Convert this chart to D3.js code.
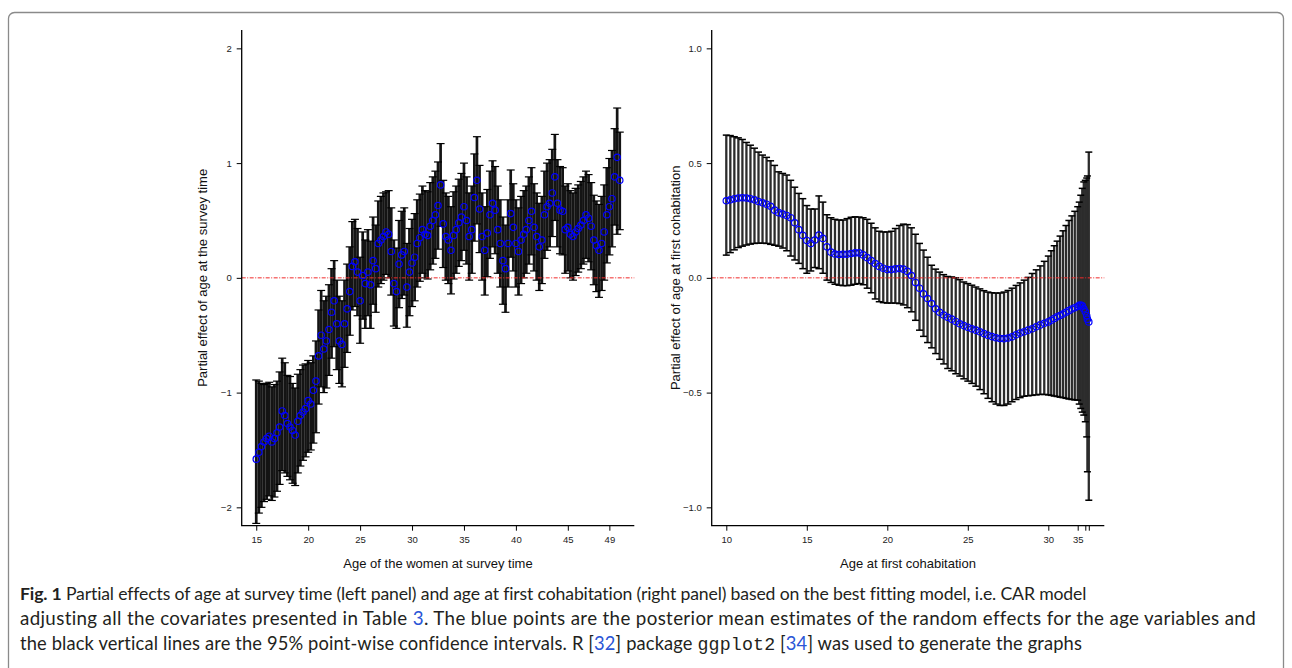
<!DOCTYPE html>
<html>
<head>
<meta charset="utf-8">
<script src="https://cdn.jsdelivr.net/npm/d3@7"></script>
<style>
  html, body { margin: 0; padding: 0; background: #fff; }
  svg { display: block; }
</style>
</head>
<body>
<div id="chart"></div>
<script>
// Left panel: age of the women at survey time
const surveyAge = [15,15.25,15.5,15.75,16,16.25,16.5,16.75,17,17.25,17.5,17.75,18,18.25,18.5,18.75,19,19.25,19.5,19.75,
  20,20.25,20.5,20.75,21,21.25,21.5,21.75,22,22.25,22.5,22.75,23,23.25,23.5,23.75,24,24.25,24.5,24.75,
  25,25.25,25.5,25.75,26,26.25,26.5,26.75,27,27.25,27.5,27.75,28,28.25,28.5,28.75,29,29.25,29.5,29.75,
  30,30.25,30.5,30.75,31,31.25,31.5,31.75,32,32.25,32.5,32.75,33,33.25,33.5,33.75,34,34.25,34.5,34.75,
  35,35.25,35.5,35.75,36,36.25,36.5,36.75,37,37.25,37.5,37.75,38,38.25,38.5,38.75,39,39.25,39.5,39.75,
  40,40.25,40.5,40.75,41,41.25,41.5,41.75,42,42.25,42.5,42.75,43,43.25,43.5,43.75,44,44.25,44.5,44.75,
  45,45.25,45.5,45.75,46,46.25,46.5,46.75,47,47.25,47.5,47.75,48,48.25,48.5,48.75,49,49.25,49.5,49.75,50];
const surveyMean = [-1.58,-1.52,-1.47,-1.43,-1.40,-1.38,-1.43,-1.40,-1.35,-1.30,-1.16,-1.20,-1.27,-1.30,-1.33,-1.37,-1.25,-1.20,-1.17,-1.14,
  -1.07,-1.10,-0.98,-0.90,-0.68,-0.50,-0.62,-0.55,-0.45,-0.30,-0.20,-0.40,-0.55,-0.58,-0.40,-0.27,-0.12,0.10,0.14,0.05,
  -0.20,0.02,-0.05,0.05,-0.06,0.15,0.08,0.30,0.33,0.36,0.40,0.38,0.23,-0.05,-0.12,0.12,0.20,0.23,-0.08,0.05,
  0.13,0.18,0.30,0.35,0.42,0.38,0.37,0.45,0.50,0.55,0.63,0.81,0.47,0.36,0.33,0.24,0.37,0.42,0.48,0.53,
  0.62,0.50,0.36,0.42,0.70,0.85,0.60,0.36,0.24,0.39,0.55,0.65,0.59,0.42,0.30,0.15,0.08,0.30,0.56,0.44,
  0.30,0.23,0.33,0.38,0.42,0.50,0.58,0.44,0.36,0.27,0.33,0.55,0.62,0.65,0.74,0.88,0.65,0.59,0.58,0.42,
  0.44,0.38,0.36,0.40,0.43,0.46,0.50,0.55,0.52,0.45,0.33,0.28,0.24,0.30,0.40,0.55,0.62,0.69,0.88,1.05,0.85];
const surveyLower = [-2.14,-2.05,-2.00,-1.95,-1.93,-1.90,-1.94,-1.91,-1.86,-1.80,-1.68,-1.70,-1.73,-1.76,-1.79,-1.81,-1.70,-1.64,-1.59,-1.56,
  -1.52,-1.50,-1.44,-1.35,-1.10,-0.95,-1.00,-0.96,-0.85,-0.70,-0.60,-0.80,-0.92,-0.95,-0.78,-0.65,-0.50,-0.28,-0.25,-0.33,
  -0.57,-0.36,-0.44,-0.33,-0.44,-0.23,-0.30,-0.08,-0.05,-0.02,0.03,0.00,-0.15,-0.42,-0.44,-0.26,-0.18,-0.15,-0.43,-0.33,
  -0.25,-0.20,-0.08,-0.03,0.04,0.00,-0.01,0.07,0.12,0.17,0.25,0.45,0.09,-0.02,-0.05,-0.14,-0.01,0.04,0.10,0.15,
  0.24,0.12,-0.02,0.04,0.32,0.47,0.22,-0.02,-0.15,0.01,0.17,0.27,0.21,0.04,-0.08,-0.23,-0.30,-0.08,0.18,0.06,
  -0.08,-0.15,-0.05,0.00,0.04,0.12,0.20,0.06,-0.02,-0.11,-0.05,0.17,0.24,0.27,0.36,0.50,0.27,0.21,0.20,0.04,
  0.06,0.00,-0.02,0.02,0.05,0.08,0.12,0.17,0.14,0.07,-0.06,-0.12,-0.17,-0.11,-0.02,0.13,0.20,0.27,0.46,0.38,0.42];
const surveyUpper = [-0.89,-0.90,-0.92,-0.93,-0.92,-0.91,-0.95,-0.93,-0.90,-0.82,-0.70,-0.74,-0.85,-0.86,-0.92,-0.96,-0.84,-0.80,-0.76,-0.75,
  -0.72,-0.74,-0.68,-0.55,-0.28,-0.11,-0.20,-0.16,-0.06,0.08,0.15,-0.02,-0.16,-0.20,-0.02,0.12,0.27,0.49,0.51,0.43,
  0.18,0.40,0.33,0.42,0.32,0.53,0.46,0.67,0.71,0.74,0.75,0.76,0.61,0.33,0.26,0.50,0.58,0.61,0.30,0.43,
  0.51,0.56,0.68,0.73,0.80,0.76,0.75,0.83,0.88,0.93,1.01,1.17,0.85,0.74,0.71,0.62,0.75,0.80,0.86,0.91,
  1.00,0.88,0.74,0.80,1.08,1.23,0.98,0.74,0.62,0.77,0.93,1.02,0.97,0.80,0.68,0.53,0.46,0.68,0.94,0.82,
  0.68,0.61,0.71,0.76,0.80,0.88,0.96,0.82,0.74,0.65,0.71,0.93,1.00,1.03,1.12,1.25,1.03,0.97,0.96,0.80,
  0.82,0.76,0.74,0.78,0.81,0.84,0.88,0.93,0.90,0.83,0.72,0.67,0.64,0.71,0.81,0.96,1.04,1.11,1.30,1.48,1.27];
const surveyTicks = [15, 20, 25, 30, 35, 40, 45, 49];
const surveyYTicks = [-2, -1, 0, 1, 2];
const surveyYLabels = ["\u22122", "\u22121", "0", "1", "2"];

// Right panel: age at first cohabitation
const cohabAge = [10,10.25,10.5,10.75,11,11.25,11.5,11.75,12,12.25,12.5,12.75,13,13.25,13.5,13.75,14,14.25,14.5,14.75,
  15,15.25,15.5,15.75,16,16.25,16.5,16.75,17,17.25,17.5,17.75,18,18.25,18.5,18.75,19,19.25,19.5,19.75,
  20,20.25,20.5,20.75,21,21.25,21.5,21.75,22,22.25,22.5,22.75,23,23.25,23.5,23.75,24,24.25,24.5,24.75,
  25,25.25,25.5,25.75,26,26.25,26.5,26.75,27,27.25,27.5,27.75,28,28.25,28.5,28.75,29,29.25,29.5,29.75,
  30,30.5,31,31.5,32,32.5,33,33.5,34,34.5,35,36,37,38,39,40,42,43,45];
const cohabMean = [0.336,0.340,0.345,0.348,0.349,0.348,0.345,0.340,0.333,0.327,0.321,0.312,0.295,0.284,0.278,0.272,0.262,0.240,0.210,0.185,
  0.163,0.150,0.165,0.186,0.172,0.135,0.112,0.104,0.102,0.103,0.103,0.106,0.109,0.109,0.100,0.088,0.075,0.062,0.050,0.042,
  0.036,0.036,0.039,0.041,0.038,0.028,0.010,-0.020,-0.045,-0.070,-0.090,-0.112,-0.135,-0.150,-0.162,-0.172,-0.180,-0.190,-0.200,-0.208,
  -0.215,-0.222,-0.228,-0.235,-0.243,-0.250,-0.256,-0.261,-0.264,-0.265,-0.262,-0.257,-0.248,-0.240,-0.235,-0.228,-0.222,-0.213,-0.205,-0.198,
  -0.192,-0.185,-0.177,-0.170,-0.164,-0.158,-0.150,-0.143,-0.136,-0.130,-0.125,-0.120,-0.118,-0.122,-0.135,-0.148,-0.165,-0.180,-0.192];
const cohabLower = [0.099,0.110,0.122,0.132,0.138,0.143,0.147,0.150,0.151,0.151,0.150,0.146,0.142,0.138,0.130,0.118,0.095,0.078,0.063,0.040,
  0.020,0.030,0.045,0.040,0.020,-0.010,-0.020,-0.028,-0.032,-0.034,-0.034,-0.032,-0.028,-0.025,-0.030,-0.045,-0.065,-0.092,-0.104,-0.108,
  -0.110,-0.110,-0.110,-0.112,-0.118,-0.130,-0.148,-0.185,-0.228,-0.255,-0.282,-0.305,-0.330,-0.355,-0.375,-0.395,-0.405,-0.418,-0.428,-0.440,
  -0.450,-0.460,-0.472,-0.487,-0.505,-0.525,-0.540,-0.550,-0.556,-0.556,-0.550,-0.540,-0.530,-0.522,-0.516,-0.514,-0.512,-0.510,-0.508,-0.508,
  -0.510,-0.512,-0.515,-0.517,-0.520,-0.522,-0.525,-0.528,-0.530,-0.532,-0.533,-0.550,-0.569,-0.585,-0.598,-0.627,-0.693,-0.845,-0.969];
const cohabUpper = [0.622,0.620,0.615,0.610,0.603,0.590,0.578,0.565,0.548,0.535,0.525,0.510,0.490,0.462,0.455,0.448,0.425,0.395,0.368,0.345,
  0.315,0.300,0.300,0.357,0.330,0.275,0.262,0.255,0.252,0.252,0.258,0.264,0.266,0.265,0.262,0.255,0.238,0.218,0.203,0.200,
  0.200,0.203,0.215,0.228,0.234,0.232,0.218,0.190,0.150,0.121,0.090,0.055,0.038,0.025,0.014,0.006,0.004,0.000,-0.008,-0.018,
  -0.025,-0.032,-0.040,-0.048,-0.056,-0.062,-0.065,-0.066,-0.066,-0.062,-0.055,-0.045,-0.033,-0.022,-0.010,0.002,0.019,0.035,0.052,0.072,
  0.095,0.118,0.140,0.160,0.182,0.205,0.228,0.250,0.270,0.290,0.310,0.330,0.360,0.390,0.418,0.425,0.435,0.444,0.548];
const cohabTicks = [10, 15, 20, 25, 30, 35, 40, 45];
const cohabTickLabels = ["10", "15", "20", "25", "30", "35", "", ""];
const cohabYTicks = [-1, -0.5, 0, 0.5, 1];
const cohabYLabels = ["\u22121.0", "\u22120.5", "0.0", "0.5", "1.0"];

// Caption
const captionLines = [
  [["Fig. 1", "bold"], [" Partial effects of age at survey time (left panel) and age at first cohabitation (right panel) based on the best fitting model, i.e. CAR model", ""]],
  [["adjusting all the covariates presented in Table ", ""], ["3", "link"], [". The blue points are the posterior mean estimates of the random effects for the age variables and", ""]],
  [["the black vertical lines are the 95% point-wise confidence intervals. R [", ""], ["32", "link"], ["] package ", ""], ["ggplot2", "mono"], [" [", ""], ["34", "link"], ["] was used to generate the graphs", ""]]
];
const captionWidths = [1065, 1236, 1062];

// Dimensions of one plot region
const W = 392.6;
const H = 495.7;
const axisFont = "'Liberation Sans', Arial, Helvetica, sans-serif";

const svg = d3.select('#chart')
  .append('svg')
  .attr('width', 1292)
  .attr('height', 668);

// Rounded figure frame (open at the bottom of the page)
svg.append('rect')
  .attr('x', 8.5).attr('y', 12.5)
  .attr('width', 1275).attr('height', 720)
  .attr('rx', 6)
  .attr('fill', 'none')
  .attr('stroke', '#8a8a8a')
  .attr('stroke-width', 1.3);

function drawPanel(p) {
  const g = svg.append('g').attr('transform', `translate(${p.left},${p.top})`);
  const x = p.x, y = p.y;
  const rows = p.age.map((a, i) => ({ a: a, m: p.mean[i], lo: p.lower[i], hi: p.upper[i] }));

  // interval lines
  g.append('g').selectAll('line')
    .data(rows).enter().append('line')
    .attr('x1', d => x(d.a)).attr('x2', d => x(d.a))
    .attr('y1', d => y(d.lo)).attr('y2', d => y(d.hi))
    .attr('stroke', p.barColor)
    .attr('stroke-width', p.barWidth);

  // caps
  ['lo', 'hi'].forEach(k => {
    g.append('g').selectAll('line')
      .data(rows).enter().append('line')
      .attr('x1', d => x(d.a) - p.cap).attr('x2', d => x(d.a) + p.cap)
      .attr('y1', d => y(d[k])).attr('y2', d => y(d[k]))
      .attr('stroke', '#000')
      .attr('stroke-width', p.capWidth);
  });

  // zero reference line
  g.append('line')
    .attr('x1', 0).attr('x2', W)
    .attr('y1', y(0)).attr('y2', y(0))
    .attr('stroke', '#f02a2a')
    .attr('stroke-width', 1)
    .attr('stroke-dasharray', '4,1.5,1,1.5');

  // posterior means
  g.append('g').selectAll('circle')
    .data(rows).enter().append('circle')
    .attr('cx', d => x(d.a)).attr('cy', d => y(d.m))
    .attr('r', 3.2)
    .attr('fill', 'none')
    .attr('stroke', '#0000ff')
    .attr('stroke-width', 1.2);

  // axes
  const yAxis = g.append('g')
    .call(d3.axisLeft(y).tickValues(p.yTicks).tickFormat((d, i) => p.yLabels[i]).tickSize(5).tickPadding(5));
  const xAxis = g.append('g')
    .attr('transform', `translate(0,${H})`)
    .call(d3.axisBottom(x).tickValues(p.xTicks).tickFormat((d, i) => p.xLabels[i]).tickSize(5).tickPadding(6));
  [yAxis, xAxis].forEach(a => {
    a.select('.domain').remove();
    a.attr('font-family', axisFont).attr('font-size', 9.5);
    a.selectAll('text').attr('fill', '#222');
    a.selectAll('line').attr('stroke', '#000');
  });

  // L-shaped box
  g.append('path')
    .attr('d', `M0,0V${H}H${W}`)
    .attr('fill', 'none')
    .attr('stroke', '#000')
    .attr('stroke-width', 1.3);

  // axis titles
  g.append('text')
    .attr('x', W / 2).attr('y', H + 42)
    .attr('text-anchor', 'middle')
    .attr('font-family', axisFont).attr('font-size', 13)
    .attr('fill', '#111')
    .text(p.xTitle);
  g.append('text')
    .attr('transform', `translate(${p.yTitleX},${H / 2}) rotate(-90)`)
    .attr('text-anchor', 'middle')
    .attr('font-family', axisFont).attr('font-size', 13)
    .attr('fill', '#111')
    .text(p.yTitle);
}

// Left panel
drawPanel({
  left: 241.7, top: 30,
  x: d3.scaleLinear().domain([13.6, 51.4]).range([0, W]),
  y: d3.scaleLinear().domain([-2.16, 2.16]).range([H, 0]),
  age: surveyAge, mean: surveyMean, lower: surveyLower, upper: surveyUpper,
  xTicks: surveyTicks, xLabels: surveyTicks.map(String),
  yTicks: surveyYTicks, yLabels: surveyYLabels,
  barColor: '#141414', barWidth: 2.7, cap: 4, capWidth: 1.2,
  xTitle: 'Age of the women at survey time',
  yTitle: 'Partial effect of age at the survey time',
  yTitleX: -34.5
});

// Right panel (the axis is stretched where the ages are dense)
drawPanel({
  left: 711.7, top: 30,
  x: d3.scaleLinear().domain([10, 30, 35, 40, 45]).range([14.6, 336.6, 366, 373.6, 377.1]),
  y: d3.scaleLinear().domain([-1.08, 1.08]).range([H, 0]),
  age: cohabAge, mean: cohabMean, lower: cohabLower, upper: cohabUpper,
  xTicks: cohabTicks, xLabels: cohabTickLabels,
  yTicks: cohabYTicks, yLabels: cohabYLabels,
  barColor: '#2c2c2c', barWidth: 2.3, cap: 3.5, capWidth: 1.5,
  xTitle: 'Age at first cohabitation',
  yTitle: 'Partial effect of age at first cohabitation',
  yTitleX: -31.5
});

// Caption text: size and letter spacing nudged so each line ends where it does in the figure
const styles = {
  '': { family: "Lato, 'Open Sans', sans-serif", weight: 400, fill: '#231f20' },
  bold: { family: "Lato, 'Open Sans', sans-serif", weight: 700, fill: '#231f20' },
  link: { family: "Lato, 'Open Sans', sans-serif", weight: 400, fill: '#2a55d6' },
  mono: { family: "'Liberation Mono', 'DejaVu Sans Mono', monospace", weight: 400, fill: '#231f20' }
};
captionLines.forEach((segs, li) => {
  const t = svg.append('text')
    .attr('x', 20)
    .attr('y', 600 + li * 25)
    .attr('font-size', 18)
    .style('white-space', 'pre');
  segs.forEach(s => {
    const st = styles[s[1]];
    t.append('tspan')
      .attr('font-family', st.family)
      .attr('font-weight', st.weight)
      .attr('fill', st.fill)
      .text(s[0]);
  });
  const ratio = captionWidths[li] / t.node().getComputedTextLength();
  t.attr('font-size', 18 * Math.sqrt(ratio));
  const rest = captionWidths[li] - t.node().getComputedTextLength();
  const chars = segs.map(s => s[0]).join('').length;
  t.style('letter-spacing', (rest / chars) + 'px');
});
</script>
</body>
</html>
